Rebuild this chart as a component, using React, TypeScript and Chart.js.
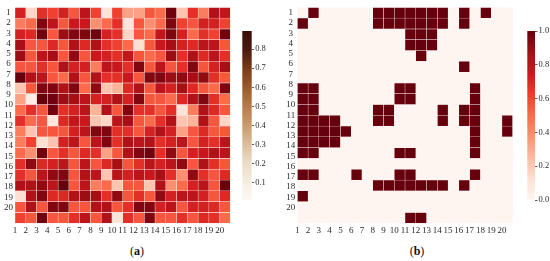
import React, { useEffect, useRef } from 'react';
import { Chart, registerables } from 'chart.js';
Chart.register(...registerables);

const rowLabels = ['1','2','3','4','5','6','7','8','9','10','11','12','13','14','15','16','17','18','19','20'];
const colLabels = ['1','2','3','4','5','6','7','8','9','10','11','12','13','14','15','16','17','18','19','20'];

const matrixA = [
  [0.65,0.15,0.6,0.55,0.65,0.5,0.72,0.55,0.1,0.55,0.3,0.3,0.5,0.45,0.88,0.2,0.6,0.4,0.75,0.7],
  [0.4,0.45,0.85,0.72,0.5,0.68,0.68,0.35,0.45,0.6,0.1,0.5,0.35,0.45,0.85,0.55,0.5,0.65,0.65,0.55],
  [0.65,0.62,0.88,0.5,0.8,0.85,0.85,0.88,0.65,0.6,0.15,0.5,0.45,0.7,0.85,0.65,0.45,0.6,0.55,0.88],
  [0.78,0.5,0.5,0.62,0.5,0.75,0.62,0.75,0.6,0.55,0.45,0.12,0.5,0.68,0.78,0.65,0.62,0.72,0.72,0.5],
  [0.8,0.5,0.72,0.78,0.5,0.82,0.5,0.68,0.65,0.6,0.7,0.5,0.45,0.5,0.8,0.6,0.75,0.62,0.72,0.6],
  [0.5,0.5,0.6,0.5,0.75,0.65,0.65,0.4,0.72,0.68,0.6,0.85,0.5,0.72,0.5,0.6,0.85,0.5,0.65,0.78],
  [0.9,0.75,0.72,0.5,0.45,0.75,0.5,0.75,0.6,0.6,0.68,0.5,0.85,0.85,0.8,0.82,0.78,0.82,0.6,0.5],
  [0.2,0.5,0.85,0.85,0.75,0.85,0.45,0.82,0.2,0.25,0.62,0.75,0.5,0.72,0.65,0.78,0.62,0.5,0.45,0.85],
  [0.3,0.05,0.9,0.88,0.8,0.78,0.72,0.65,0.65,0.75,0.65,0.85,0.5,0.5,0.45,0.62,0.75,0.85,0.6,0.45],
  [0.45,0.6,0.5,0.88,0.6,0.65,0.72,0.25,0.75,0.5,0.85,0.6,0.6,0.5,0.6,0.1,0.4,0.75,0.62,0.5],
  [0.6,0.45,0.5,0.08,0.62,0.7,0.68,0.2,0.15,0.72,0.78,0.5,0.45,0.6,0.75,0.2,0.25,0.75,0.5,0.15],
  [0.4,0.2,0.5,0.5,0.5,0.65,0.72,0.85,0.85,0.6,0.6,0.5,0.65,0.75,0.65,0.3,0.5,0.62,0.5,0.5],
  [0.4,0.55,0.12,0.2,0.65,0.72,0.5,0.72,0.85,0.6,0.75,0.72,0.75,0.6,0.65,0.72,0.5,0.65,0.6,0.72],
  [0.45,0.35,0.88,0.5,0.6,0.5,0.62,0.6,0.3,0.5,0.75,0.85,0.88,0.6,0.82,0.5,0.65,0.68,0.75,0.72],
  [0.6,0.82,0.62,0.65,0.72,0.5,0.72,0.5,0.62,0.78,0.5,0.6,0.72,0.65,0.72,0.82,0.5,0.75,0.6,0.5],
  [0.6,0.5,0.72,0.82,0.85,0.5,0.75,0.72,0.2,0.72,0.65,0.72,0.68,0.78,0.6,0.35,0.82,0.6,0.5,0.62],
  [0.75,0.75,0.82,0.72,0.9,0.5,0.72,0.4,0.45,0.2,0.5,0.5,0.2,0.75,0.35,0.45,0.65,0.72,0.5,0.9],
  [0.12,0.75,0.85,0.62,0.62,0.75,0.8,0.78,0.6,0.82,0.5,0.6,0.5,0.82,0.65,0.72,0.72,0.65,0.5,0.62],
  [0.5,0.75,0.5,0.85,0.85,0.5,0.5,0.75,0.75,0.5,0.6,0.85,0.85,0.65,0.72,0.5,0.65,0.65,0.62,0.5],
  [0.55,0.5,0.88,0.5,0.5,0.6,0.72,0.5,0.75,0.1,0.6,0.5,0.85,0.5,0.5,0.6,0.5,0.62,0.6,0.45],
];

const matrixB = [
  [0,1,0,0,0,0,0,1,1,1,1,1,1,1,0,1,0,1,0,0],
  [1,0,0,0,0,0,0,1,1,1,1,1,1,1,0,1,0,0,0,0],
  [0,0,0,0,0,0,0,0,0,0,1,1,1,0,0,0,0,0,0,0],
  [0,0,0,0,0,0,0,0,0,0,1,1,1,0,0,0,0,0,0,0],
  [0,0,0,0,0,0,0,0,0,0,0,1,0,0,0,0,0,0,0,0],
  [0,0,0,0,0,0,0,0,0,0,0,0,0,0,0,1,0,0,0,0],
  [0,0,0,0,0,0,0,0,0,0,0,0,0,0,0,0,0,0,0,0],
  [1,1,0,0,0,0,0,0,0,1,1,0,0,0,0,0,1,0,0,0],
  [1,1,0,0,0,0,0,0,0,1,1,0,0,0,0,0,1,0,0,0],
  [1,1,0,0,0,0,0,1,1,0,0,0,0,1,0,1,1,0,0,0],
  [1,1,1,1,0,0,0,1,1,0,0,0,0,1,0,1,1,0,0,1],
  [1,1,1,1,1,0,0,0,0,0,0,0,0,0,0,0,1,0,0,1],
  [1,1,1,1,0,0,0,0,0,0,0,0,0,0,0,0,1,0,0,0],
  [1,1,0,0,0,0,0,0,0,1,1,0,0,0,0,0,1,0,0,0],
  [0,0,0,0,0,0,0,0,0,0,0,0,0,0,0,0,0,0,0,0],
  [1,1,0,0,0,1,0,0,0,1,1,0,0,0,0,0,1,0,0,0],
  [0,0,0,0,0,0,0,1,1,1,1,1,1,1,0,1,0,0,0,0],
  [1,0,0,0,0,0,0,0,0,0,0,0,0,0,0,0,0,0,0,0],
  [0,0,0,0,0,0,0,0,0,0,0,0,0,0,0,0,0,0,0,0],
  [0,0,0,0,0,0,0,0,0,0,1,1,0,0,0,0,0,0,0,0],
];

const colorbarTicksA = [0.1, 0.2, 0.3, 0.4, 0.5, 0.6, 0.7, 0.8];
const colorbarTicksB = [0.0, 0.2, 0.4, 0.6, 0.8, 1.0];
const rangeA = [0.01, 0.895];
const rangeB = [0, 1];

const REDS = ['#fff5f0','#fee0d2','#fcbba1','#fc9272','#fb6a4a','#ef3b2c','#cb181d','#a50f15','#67000d'];
const BROWN = ['#fcfaf6','#f4ece0','#ecdcc6','#dcbc98','#c89a6a','#b87a4a','#9a5a2a','#7a3a18','#4a1a0e','#3a0c06'];

function hexToRgb(h: string) {
  return [parseInt(h.slice(1, 3), 16), parseInt(h.slice(3, 5), 16), parseInt(h.slice(5, 7), 16)];
}
function cmap(stops: string[], t: number) {
  const tt = Math.max(0, Math.min(1, t));
  const p = tt * (stops.length - 1);
  const i = Math.min(stops.length - 2, Math.floor(p));
  const f = p - i;
  const a = hexToRgb(stops[i]);
  const b = hexToRgb(stops[i + 1]);
  const c = a.map((v, k) => Math.round(v + (b[k] - v) * f));
  return `rgb(${c[0]},${c[1]},${c[2]})`;
}

const FONT = '"Liberation Serif", "Times New Roman", serif';
const TICK_COLOR = '#2a2a2a';

function makeHeatmap(canvas: HTMLCanvasElement, matrix: number[][], range: number[], yAxisW: number, padRight: number) {
  const datasets = colLabels.map((_, c) => ({
    data: rowLabels.map(() => 1),
    backgroundColor: matrix.map((row) => cmap(REDS, (row[c] - range[0]) / (range[1] - range[0]))),
    borderColor: 'rgba(255,236,236,0.55)',
    borderWidth: 0.5,
    borderSkipped: false,
    barPercentage: 1,
    categoryPercentage: 1,
  }));
  return new Chart(canvas, {
    type: 'bar',
    data: { labels: rowLabels, datasets },
    options: {
      indexAxis: 'y',
      animation: false,
      responsive: false,
      layout: { padding: { top: 6.7, right: padRight, left: 0, bottom: 0 } },
      plugins: { legend: { display: false }, tooltip: { enabled: false } },
      scales: {
        x: {
          type: 'linear',
          stacked: true,
          min: 0,
          max: 20,
          position: 'bottom',
          grid: { display: false, drawTicks: false },
          border: { display: false },
          ticks: {
            padding: 2,
            color: TICK_COLOR,
            font: { family: FONT, size: 9 },
            maxRotation: 0,
            autoSkip: false,
            callback: (v: any) => colLabels[Number(v)] ?? '',
          },
          afterBuildTicks: (s: any) => { s.ticks = colLabels.map((_, i) => ({ value: i })); },
          afterFit: (s: any) => { s.height = 16.7; },
        },
        y: { type: 'category', stacked: true, display: false },
        yl: {
          type: 'linear',
          position: 'left',
          min: 0,
          max: 20,
          reverse: true,
          grid: { display: false, drawTicks: false },
          border: { display: false },
          ticks: {
            padding: 2,
            crossAlign: 'center',
            color: TICK_COLOR,
            font: { family: FONT, size: 9 },
            autoSkip: false,
            callback: (v: any) => rowLabels[Number(v)] ?? '',
          },
          afterBuildTicks: (s: any) => { s.ticks = rowLabels.map((_, i) => ({ value: i })); },
          afterFit: (s: any) => { s.width = yAxisW; },
        },
      },
    } as any,
  });
}

function makeColorbar(canvas: HTMLCanvasElement, stops: string[], range: number[], ticksArr: number[], padLeft: number, axisW: number) {
  return new Chart(canvas, {
    type: 'bar',
    data: {
      labels: ['c'],
      datasets: [{
        data: [range[1]],
        base: range[0],
        barPercentage: 1,
        categoryPercentage: 1,
        borderWidth: 0,
        backgroundColor: (ctx: any) => {
          const chart = ctx.chart;
          const ys = chart.scales && chart.scales.y;
          if (!chart.chartArea || !ys) return stops[stops.length - 1];
          const g = chart.ctx.createLinearGradient(0, ys.getPixelForValue(range[0]), 0, ys.getPixelForValue(range[1]));
          stops.forEach((c, i) => g.addColorStop(i / (stops.length - 1), c));
          return g;
        },
      } as any],
    },
    options: {
      animation: false,
      responsive: false,
      layout: { padding: { top: 31, bottom: 40, left: padLeft, right: 0 } },
      plugins: { legend: { display: false }, tooltip: { enabled: false } },
      scales: {
        x: { display: false },
        y: {
          type: 'linear',
          position: 'right',
          min: range[0],
          max: range[1],
          grid: { display: true, drawOnChartArea: false, drawTicks: true, tickLength: 2.5, tickColor: '#333', tickWidth: 0.8 },
          border: { display: false },
          ticks: {
            padding: 1,
            color: TICK_COLOR,
            font: { family: FONT, size: 8.5 },
            callback: (v: any) => Number(v).toFixed(1),
          },
          afterBuildTicks: (s: any) => { s.ticks = ticksArr.map((v) => ({ value: v })); },
          afterFit: (s: any) => { s.width = axisW; },
        },
      },
    } as any,
  });
}

export default function App() {
  const hA = useRef<HTMLCanvasElement>(null);
  const cA = useRef<HTMLCanvasElement>(null);
  const hB = useRef<HTMLCanvasElement>(null);
  const cB = useRef<HTMLCanvasElement>(null);

  useEffect(() => {
    const charts = [
      makeHeatmap(hA.current!, matrixA, rangeA, 15, 1.6),
      makeColorbar(cA.current!, BROWN, rangeA, colorbarTicksA, 6.3, 30.3),
      makeHeatmap(hB.current!, matrixB, rangeB, 15.3, 1.3),
      makeColorbar(cB.current!, REDS, rangeB, colorbarTicksB, 9.3, 15),
    ];
    return () => charts.forEach((c) => c.destroy());
  }, []);

  const cv = (left: number, w: number) => ({ position: 'absolute' as const, left, top: 0, width: w, height: 240 });
  const cap = (cx: number) => ({
    position: 'absolute' as const, left: cx - 30, width: 60, top: 244, textAlign: 'center' as const,
    fontFamily: FONT, fontSize: 12, lineHeight: '15px', color: '#111',
  });

  return (
    <div style={{ position: 'absolute', left: 0, top: 0, width: 550, height: 261, background: '#fff', overflow: 'hidden' }}>
      <canvas ref={hA} width={232} height={240} style={cv(0, 232)} />
      <canvas ref={cA} width={46} height={240} style={cv(236, 46)} />
      <canvas ref={hB} width={232} height={240} style={cv(282, 232)} />
      <canvas ref={cB} width={32} height={240} style={cv(518, 32)} />
      <div style={cap(137)}>(<b>a</b>)</div>
      <div style={cap(417)}>(<b>b</b>)</div>
    </div>
  );
}
